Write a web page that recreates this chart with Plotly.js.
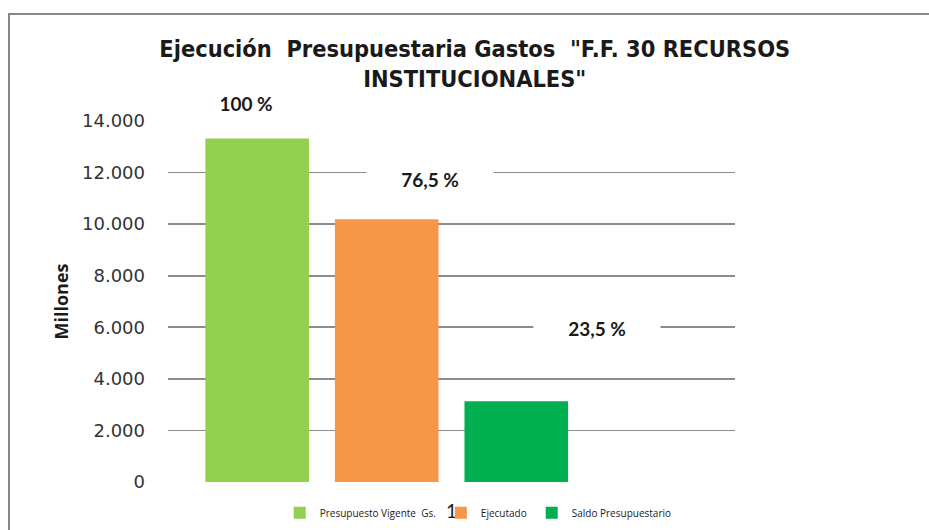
<!DOCTYPE html>
<html>
<head>
<meta charset="utf-8">
<script src="https://cdn.plot.ly/plotly-3.0.1.min.js"></script>
<style>
  html, body { margin: 0; padding: 0; background: #fff; }
  #wrap { position: relative; width: 929px; height: 530px; overflow: hidden; }
  #chart { position: absolute; left: 0; top: 0; width: 929px; height: 530px; }
  #frame { position: absolute; left: 8px; top: 13px; width: 1000px; height: 600px;
           border-left: 2px solid #878787; border-top: 2px solid #878787; pointer-events: none; }
</style>
</head>
<body>
<div id="wrap">
  <div id="chart"></div>
  <div id="frame"></div>
</div>
<script>
// ---- data ----
const categories = ["1"];
const seriesNames = ["Presupuesto Vigente  Gs.", "Ejecutado", "Saldo Presupuestario"];
const presupuesto = [13320];
const ejecutado = [10190];
const saldo = [3130];
const pctLabels = ["100 %", "76,5 %", "23,5 %"];
const yTickVals = [0, 2000, 4000, 6000, 8000, 10000, 12000, 14000];
const yTickText = ["0", "2.000", "4.000", "6.000", "8.000", "10.000", "12.000", "14.000"];

const colors = ["#92D050", "#F79646", "#00B050"];
const seriesValues = [presupuesto, ejecutado, saldo];

const traces = seriesValues.map((vals, i) => ({
  type: "bar",
  name: seriesNames[i],
  x: categories,
  y: vals,
  marker: { color: colors[i] },
  hoverinfo: "none"
}));
// empty fourth series slot (as in the original chart)
traces.push({ type: "bar", name: "", x: categories, y: [null], showlegend: false, hoverinfo: "none" });

// label positions (layout only, paper fractions of the plot area)
const labelX = [0.138, 0.462, 0.757];
const labelY = [1.05, 0.84, 0.427];

const annotations = pctLabels.map((t, i) => ({
  text: "<b>" + t + "</b>",
  xref: "paper", yref: "paper",
  x: labelX[i], y: labelY[i],
  xanchor: "center", yanchor: "middle",
  showarrow: false,
  font: { family: "Lato, 'Open Sans', sans-serif", size: 19, color: "#1a1a1a" },
  bgcolor: "#ffffff",
  width: 124, height: 30
}));

const layout = {
  width: 929, height: 530,
  paper_bgcolor: "#ffffff", plot_bgcolor: "#ffffff",
  margin: { l: 168, r: 194, t: 121, b: 48, autoexpand: false },
  title: {
    text: "<b>Ejecución  Presupuestaria Gastos  \"F.F. 30 RECURSOS<br>INSTITUCIONALES\"</b>",
    font: { family: "'Liberation Sans Narrow', 'DejaVu Sans Condensed', sans-serif", size: 23.4, color: "#1a1a1a" },
    x: 0.541, xanchor: "center", xref: "paper",
    y: 0.893, yanchor: "top", yref: "container"
  },
  barmode: "group",
  bargap: 0.086,
  bargroupgap: 0.2,
  showlegend: true,
  legend: {
    orientation: "h",
    x: 0.197, xanchor: "left", xref: "paper",
    y: -0.045, yanchor: "top",
    font: { family: "'Open Sans', sans-serif", size: 10, color: "#1a1a1a" },
    itemwidth: 30,
    bgcolor: "rgba(0,0,0,0)"
  },
  xaxis: {
    type: "category",
    showgrid: false, zeroline: false, showline: false,
    ticks: "",
    tickfont: { family: "Lato, sans-serif", size: 19, color: "#1a1a1a" },
    ticklabelstandoff: 16
  },
  yaxis: {
    range: [0, 14000],
    tickvals: yTickVals, ticktext: yTickText,
    showgrid: true, gridcolor: "#8c8c8c", gridwidth: 1.6,
    zeroline: false, showline: false,
    ticks: "",
    ticklabelstandoff: 22,
    tickfont: { family: "'DejaVu Sans', sans-serif", size: 18, color: "#333333" },
    title: {
      text: "<b>Millones</b>",
      font: { family: "'Open Sans', sans-serif", size: 18, color: "#1a1a1a" },
      standoff: 8
    }
  },
  annotations: annotations
};

Plotly.newPlot("chart", traces, layout, { displayModeBar: false, staticPlot: true });
</script>
</body>
</html>
